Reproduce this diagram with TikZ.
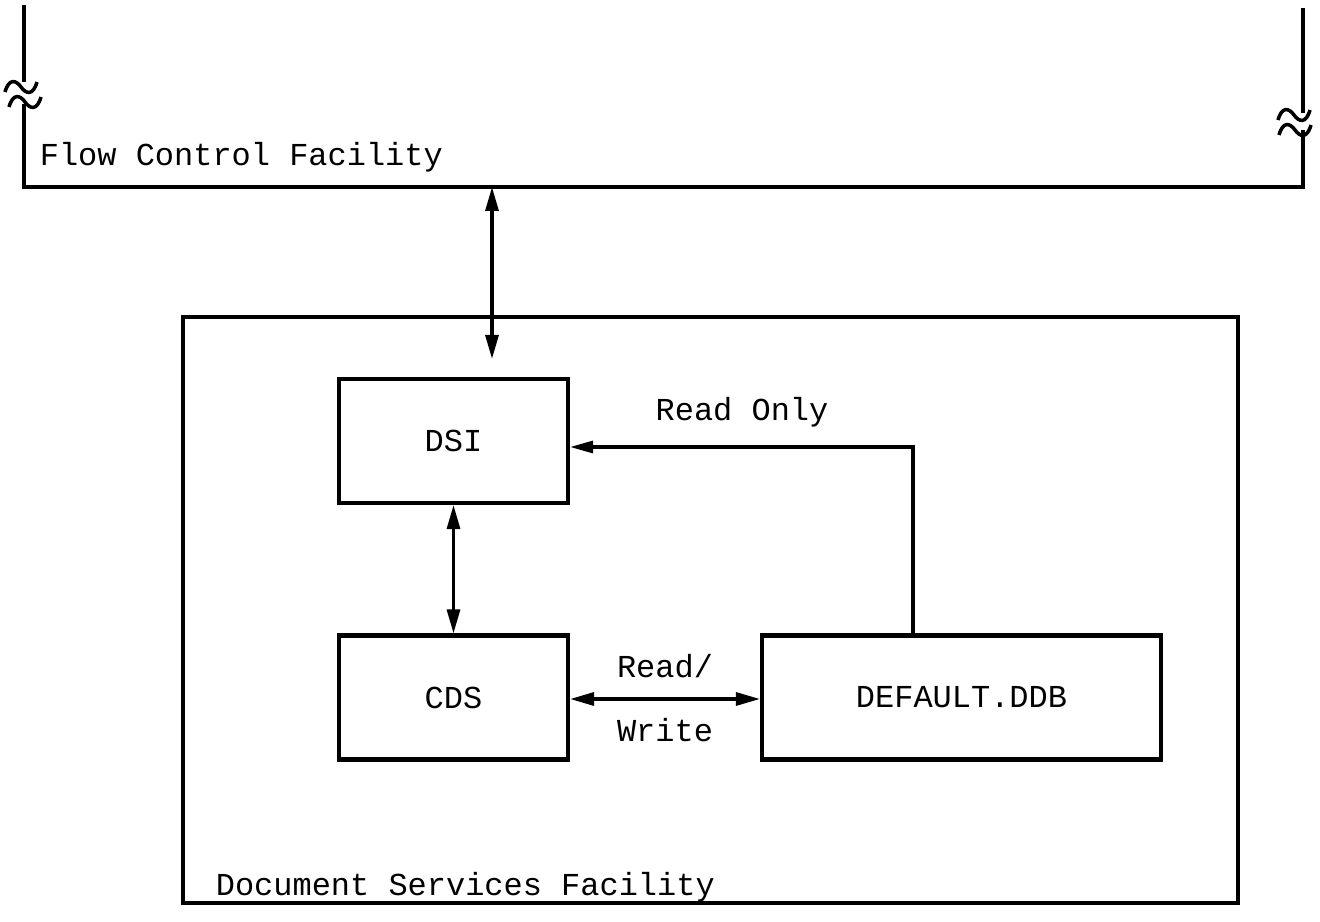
\documentclass[tikz,border=0pt]{standalone}
\usepackage{fontspec}
\setmonofont{Liberation Mono}
\usetikzlibrary{arrows.meta}
\tikzstyle{block} = [rectangle, draw=black, line width=2.4pt, text centered, inner sep=0pt]
\tikzstyle{wall} = [line width=2pt]
\tikzstyle{arrow} = [line width=1.8pt, {Triangle[length=0.48cm,width=0.26cm]}-{Triangle[length=0.48cm,width=0.26cm]}]
\tikzstyle{onearrow} = [line width=1.8pt, -{Triangle[length=0.46cm,width=0.24cm]}]
\tikzstyle{tag} = [font=\ttfamily\fontsize{18.2}{22}\selectfont, inner sep=2pt]

\begin{document}
\begin{tikzpicture}[x=0.02cm, y=-0.02cm, font=\ttfamily\fontsize{18.2}{22}\selectfont]
\useasboundingbox (0,0) rectangle (1320,922);
\tikzset{brk/.pic={\draw[wall] (-16,5) .. controls (-12,-9) and (-5,-7) .. (0,0) .. controls (5,7) and (12,9) .. (16,-5);}}
% Flow Control Facility, broken off at both ends
\draw[wall] (24,5) -- (24,82);
\draw[wall] (24,104) -- (24,187) -- (1303,187) -- (1303,130);
\draw[wall] (1303,113) -- (1303,8);
\pic at (21,87) {brk};
\pic at (25,102) {brk};
\pic at (1294,115) {brk};
\pic at (1295,130) {brk};
\node (fcf) [tag, anchor=west] at (36,157) {Flow Control Facility};
\coordinate (fcfport) at (492,187);

% Document Services Facility
\node (dsf) [block, minimum width=21.1cm, minimum height=11.72cm] at (710.5,610) {};
\node (dsflabel) [tag, anchor=west] at (212,887) {Document Services Facility};
\node (dsi) [block, minimum width=4.58cm, minimum height=2.48cm] at (453.5,441) {DSI};
\node (cds) [block, minimum width=4.58cm, minimum height=2.48cm] at (453.5,697.5) {CDS};
\node (ddb) [block, minimum width=7.98cm, minimum height=2.48cm] at (961.5,697.5) {DEFAULT.DDB};

\coordinate (rw) at (663,699);
\coordinate (ro) at (913,447);
\draw [arrow, shorten >=0.36cm] (fcfport) -- (fcfport |- dsi.north);
\draw [arrow] (dsi) -- (cds);
\draw [arrow] (cds.east |- rw) -- node[tag, above=9pt] {Read/} node[tag, below=8pt] {Write} (ddb.west |- rw);
\draw [onearrow] (ddb.north -| ro) -- (ro) -- (dsi.east |- ro);
\node (rolabel) [tag] at (742,412) {Read Only};
\end{tikzpicture}
\end{document}
